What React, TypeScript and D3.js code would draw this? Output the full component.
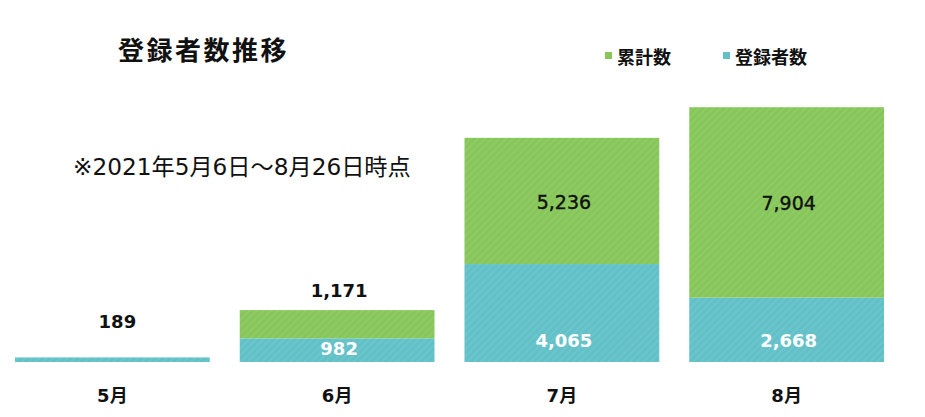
import React from "react";
import * as d3 from "d3";

const months = ["5月", "6月", "7月", "8月"];
const newRegs = [189, 982, 4065, 2668];
const cumulative = [0, 1171, 5236, 7904];
const cumulativeLabels = ["", "1,171", "5,236", "7,904"];
const newLabels = ["189", "982", "4,065", "2,668"];
const legendItems = ["累計数", "登録者数"];

const W = 925;
const H = 417;
const GREEN = "#86c65a";
const TEAL = "#62c1c8";
const FONT = "'DejaVu Sans', 'Noto Sans CJK JP', sans-serif";
const CJK = "'Noto Sans CJK JP', sans-serif";

export default function App() {
  const x = d3.scaleBand<string>().domain(months).range([0, 899]).paddingInner(30 / 225).paddingOuter(15 / 225);
  const y = d3.scaleLinear().domain([0, 11000]).range([362, 362 - 11000 * 0.0241]);
  const y0 = y(0);

  const stacked = months.map((m, i) => {
    const tealTop = y(newRegs[i]);
    const greenTop = y(newRegs[i] + cumulative[i]);
    return { m, i, tealTop, greenTop, x0: x(m)!, w: x.bandwidth() };
  });

  return (
    <svg width={W} height={H} style={{ position: "absolute", left: 0, top: 0, background: "#fff" }} fontFamily={FONT}>
      <defs>
        <pattern id="pg" patternUnits="userSpaceOnUse" width={5} height={5} patternTransform="rotate(45)">
          <rect width={5} height={5} fill={GREEN} />
          <rect width={2} height={5} fill="#8ecb63" />
        </pattern>
        <pattern id="pt" patternUnits="userSpaceOnUse" width={5} height={5} patternTransform="rotate(45)">
          <rect width={5} height={5} fill={TEAL} />
          <rect width={2} height={5} fill="#6bc5cb" />
        </pattern>
      </defs>
      <text x={118} y={60} fontSize={26} fontWeight={700} letterSpacing={2.5} fill="#111" fontFamily={CJK}>登録者数推移</text>
      <g fontFamily={CJK}>
        <rect x={605} y={52} width={7} height={7} fill={GREEN} />
        <text x={617} y={64} fontSize={18} fontWeight={700} fill="#111">{legendItems[0]}</text>
        <rect x={723} y={52} width={7} height={7} fill={TEAL} />
        <text x={735} y={64} fontSize={18} fontWeight={700} fill="#111">{legendItems[1]}</text>
      </g>
      <text x={73} y={175} fontSize={23.2} fill="#111">※2021年5月6日～8月26日時点</text>
      {stacked.map((d) => {
        const cx = d.x0 + d.w / 2 + 2;
        const greenH = d.tealTop - d.greenTop;
        const tealH = y0 - d.tealTop;
        const bigGreen = greenH > 60;
        return (
          <g key={d.m}>
            <rect x={d.x0} y={d.tealTop} width={d.w} height={tealH} fill="url(#pt)" />
            {cumulative[d.i] > 0 && (
              <rect x={d.x0} y={d.greenTop} width={d.w} height={greenH} fill="url(#pg)" />
            )}
            {cumulative[d.i] > 0 && bigGreen && (
              <text x={cx} y={(d.tealTop + d.greenTop) / 2 + 8} textAnchor="middle" fontSize={19} fontWeight={400} fill="#111" stroke="#111" strokeWidth={0.4}>
                {cumulativeLabels[d.i]}
              </text>
            )}
            {cumulative[d.i] > 0 && !bigGreen && (
              <text x={cx} y={Math.min(d.greenTop - 13, 328)} textAnchor="middle" fontSize={18} fontWeight={700} fill="#111">
                {cumulativeLabels[d.i]}
              </text>
            )}
            {cumulative[d.i] === 0 ? (
              <text x={cx + 3} y={Math.min(d.tealTop - 13, 328)} textAnchor="middle" fontSize={18} fontWeight={700} fill="#111">
                {newLabels[d.i]}
              </text>
            ) : (
              <text x={cx} y={Math.max((d.tealTop + y0) / 2 + 5, y0 - 15)} textAnchor="middle" fontSize={18} fontWeight={700} fill="#fff">
                {newLabels[d.i]}
              </text>
            )}
            <text x={cx - 2} y={402} textAnchor="middle" fontSize={18} fontWeight={700} fill="#111">{d.m}</text>
          </g>
        );
      })}
    </svg>
  );
}
